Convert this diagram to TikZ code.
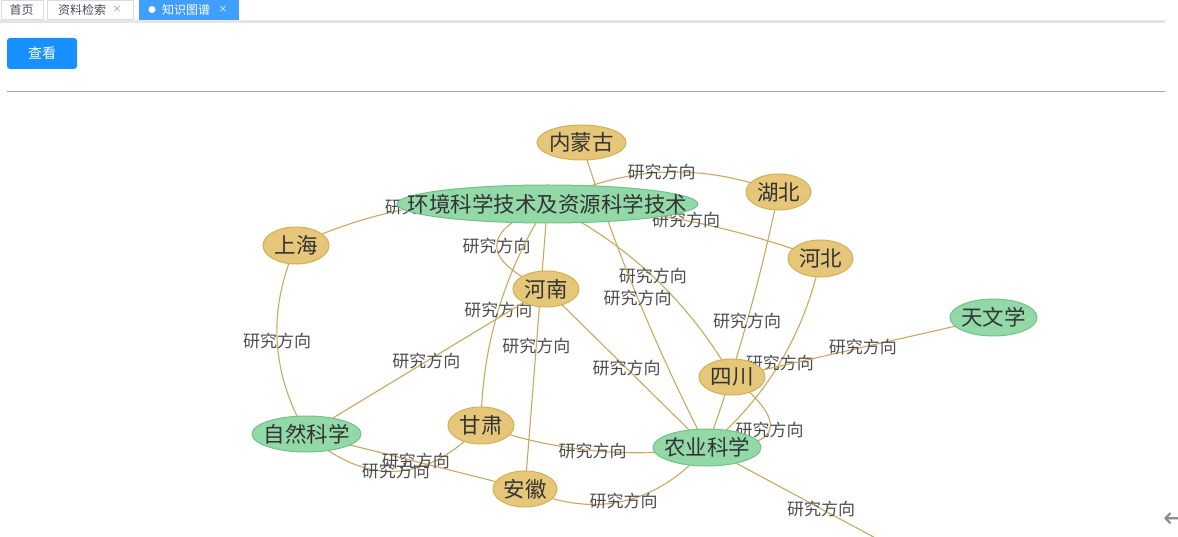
\documentclass[tikz,border=0pt]{standalone}
\usepackage{fontspec}
\usepackage{xcolor}
\usetikzlibrary{shapes.geometric}
\newfontfamily\cjk{Noto Sans CJK SC}
\newfontfamily\arrowfont{DejaVu Sans}
\pgfdeclarelayer{background}
\pgfsetlayers{background,main}

\definecolor{gold}{HTML}{E6C779}
\definecolor{golddraw}{HTML}{D4AF57}
\definecolor{leaf}{HTML}{93D9A8}
\definecolor{leafdraw}{HTML}{74C08A}
\definecolor{relcol}{HTML}{C9A961}
\definecolor{txt}{HTML}{333333}
\definecolor{labtxt}{HTML}{4D4D4D}
\definecolor{tabblue}{HTML}{409EFF}
\definecolor{btnblue}{HTML}{1890FF}
\definecolor{tabline}{HTML}{D8DCE5}
\definecolor{tabtext}{HTML}{495060}

\begin{document}
\begin{tikzpicture}[x=1pt,y=-1pt,
    prov/.style={ellipse,draw=golddraw,fill=gold,line width=1pt,inner sep=0pt,minimum width=#1,minimum height=36pt,
        font=\cjk\fontsize{21.5}{21.5}\selectfont,text=txt,
        execute at begin node={\hbox to 0pt\bgroup\hss},execute at end node={\hss\egroup}},
    subj/.style={prov=#1,draw=leafdraw,fill=leaf},
    rel/.style={draw=relcol,line width=1.1pt},
    lab/.style={font=\cjk\fontsize{17}{17}\selectfont,text=labtxt,inner sep=0pt},
    tab/.style={draw=tabline,fill=white,line width=.8pt,inner sep=0pt,minimum height=19pt},
    tabtxt/.style={font=\cjk\fontsize{12}{12}\selectfont,text=tabtext,inner sep=0pt},
    tabx/.style={font=\cjk\fontsize{9}{9}\selectfont,text=tabtext!70,inner sep=0pt},
    btn/.style={fill=btnblue,rounded corners=3pt,minimum width=70pt,minimum height=31pt,inner sep=0pt,
        text=white,font=\cjk\fontsize{14}{14}\selectfont}]

    \useasboundingbox (0,0) rectangle (1178,537);

    \fill[black!10] (0,20) rectangle (1165,23.5);
    \node[tab,minimum width=42pt] (tab1) at (22,9.5) {};
    \node[tabtxt] (tab1t) at (21.5,9.5) {首页};
    \node[tab,minimum width=86pt] (tab2) at (90.5,9.5) {};
    \node[tabtxt] (tab2t) at (82,9.5) {资料检索};
    \node[tabx] (tab2x) at (117,9.5) {×};
    \node[tab,draw=tabblue,fill=tabblue,minimum width=99pt] (tab3) at (188.5,9.5) {};
    \node[circle,fill=white,inner sep=0pt,minimum size=7pt] (tab3d) at (152,9.5) {};
    \node[tabtxt,text=white] (tab3t) at (186,9.5) {知识图谱};
    \node[tabx,text=white] (tab3x) at (223,9.5) {×};

    \node[btn] (btn) at (42,53.5) {查看};
    \draw[black!35,line width=1pt] (7,92) -- (1165,92);

    \node[prov=89pt,minimum height=35pt] (nmg) at (581.5,142.5) {内蒙古};
    \node[subj=301pt,minimum height=38pt] (env) at (547.5,204) {环境科学技术及资源科学技术};
    \node[prov=65pt] (hub) at (778.5,192) {湖北};
    \node[prov=66pt,minimum height=37pt] (sh) at (296,245.5) {上海};
    \node[prov=65pt,minimum height=37pt] (heb) at (820.5,258.5) {河北};
    \node[prov=66pt] (hen) at (546,289) {河南};
    \node[subj=87pt,minimum height=37pt] (tw) at (993.5,317.5) {天文学};
    \node[prov=66pt] (sc) at (732,377) {四川};
    \node[subj=109pt] (zr) at (306.5,434) {自然科学};
    \node[prov=66pt,minimum height=37pt] (gs) at (481,425.5) {甘肃};
    \node[subj=108pt,minimum height=37pt] (ny) at (707,447.5) {农业科学};
    \node[prov=64pt] (ah) at (525,489) {安徽};
    \coordinate (out) at (935,570);

    \node[font=\arrowfont\fontsize{28}{28}\selectfont,text=black!45,inner sep=0pt,anchor=west] (back) at (1163,520) {←};

    \begin{pgfonlayer}{background}
        \fill[white] (0,0) rectangle (1178,537);
        \draw[rel] (sh.center) to[bend left=16,looseness=.88] node[lab]{研究方向} (env.center);
        \draw[rel] (env.center) to[bend left=24,looseness=.93] node[lab]{研究方向} (hub.center);
        \draw[rel] (env.center) to[bend left=9,looseness=.86] node[lab]{研究方向} (heb.center);
        \draw[rel] (env.center) to[bend right=67,looseness=2.18] node[lab]{研究方向} (hen.center);
        \draw[rel] (env.center) to[bend right=16,looseness=.89] node[lab]{研究方向} (gs.center);
        \draw[rel] (env.center) to node[lab]{研究方向} (ah.center);
        \draw[rel] (env.center) to[bend left=17,looseness=.89] node[lab]{研究方向} (sc.center);
        \draw[rel] (nmg.center) to[bend right=5,looseness=.85] node[lab]{研究方向} (ny.center);
        \draw[rel] (hub.center) to[bend left=4,looseness=.85] node[lab]{研究方向} (ny.center);
        \draw[rel] (heb.center) to[bend left=19,looseness=.9] node[lab]{研究方向} (ny.center);
        \draw[rel] (sh.center) to[bend right=27,looseness=.96] node[lab]{研究方向} (zr.center);
        \draw[rel] (hen.center) to node[lab]{研究方向} (zr.center);
        \draw[rel] (hen.center) to node[lab]{研究方向} (ny.center);
        \draw[rel] (gs.center) to[bend left=44,looseness=1.17] node[lab]{研究方向} (zr.center);
        \draw[rel] (zr.center) to node[lab]{研究方向} (ah.center);
        \draw[rel] (gs.center) to[bend right=14,looseness=.88] node[lab]{研究方向} (ny.center);
        \draw[rel] (ah.center) to[bend right=36,looseness=1.05] node[lab]{研究方向} (ny.center);
        \draw[rel] (sc.center) to[bend left=71,looseness=2.57] node[lab]{研究方向} (ny.center);
        \draw[rel] (sc.center) to node[lab]{研究方向} (tw.center);
        \draw[rel] (ny.center) to node[lab]{研究方向} (out);
    \end{pgfonlayer}
\end{tikzpicture}
\end{document}
